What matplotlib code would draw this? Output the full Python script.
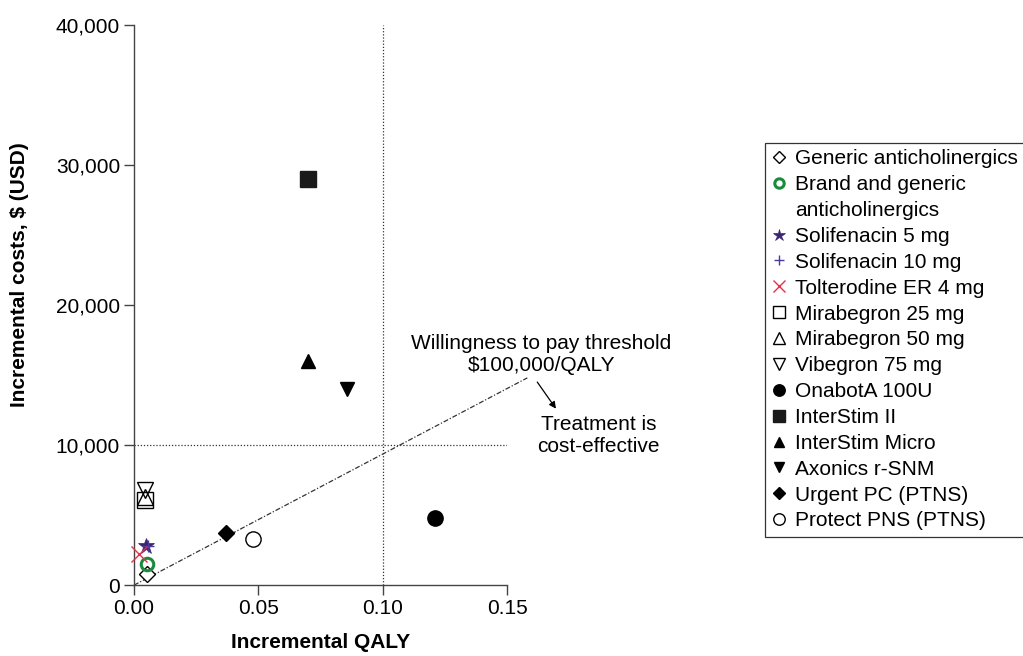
import matplotlib
matplotlib.use("Agg")
import matplotlib.pyplot as plt
from matplotlib.lines import Line2D

plt.rcParams["font.family"] = ["Liberation Sans", "DejaVu Sans"]

# ── 数据 ─────────────────────────────────────────────
labels = [
    "Generic anticholinergics",
    "Brand and generic\nanticholinergics",
    "Solifenacin 5 mg",
    "Solifenacin 10 mg",
    "Tolterodine ER 4 mg",
    "Mirabegron 25 mg",
    "Mirabegron 50 mg",
    "Vibegron 75 mg",
    "OnabotA 100U",
    "InterStim II",
    "InterStim Micro",
    "Axonics r-SNM",
    "Urgent PC (PTNS)",
    "Protect PNS (PTNS)",
]
qaly = [0.0051, 0.0054, 0.0047, 0.0055, 0.0020, 0.0045, 0.0045, 0.0045,
        0.121, 0.070, 0.070, 0.0855, 0.037, 0.048]
costs = [800, 1500, 2800, 2800, 2200, 6100, 6300, 6800,
         4800, 29000, 16000, 14000, 3700, 3300]

wtp_line_x = [0.0, 0.158]
wtp_line_y = [0, 14800]
threshold_qaly = 0.10
threshold_cost = 10000

# ── 样式 ─────────────────────────────────────────────
styles = [
    dict(marker="D", ms=8, mfc="white", mec="black", mew=1.0),
    dict(marker="o", ms=9, mfc="none", mec="#1a8a3c", mew=2.2),
    dict(marker="*", ms=12, mfc="#3b2470", mec="#3b2470", mew=0.5),
    dict(marker="+", ms=9, mfc="none", mec="#4b3c9c", mew=1.0),
    dict(marker="x", ms=11, mfc="none", mec="#e8304a", mew=1.0),
    dict(marker="s", ms=11, mfc="none", mec="black", mew=1.0),
    dict(marker="^", ms=12, mfc="none", mec="black", mew=1.0),
    dict(marker="v", ms=12, mfc="none", mec="black", mew=1.0),
    dict(marker="o", ms=11, mfc="black", mec="black", mew=1.0),
    dict(marker="s", ms=11, mfc="#1a1a1a", mec="#1a1a1a", mew=1.0),
    dict(marker="^", ms=10, mfc="black", mec="black", mew=1.0),
    dict(marker="v", ms=10, mfc="black", mec="black", mew=1.0),
    dict(marker="D", ms=8, mfc="black", mec="black", mew=1.0),
    dict(marker="o", ms=11, mfc="white", mec="black", mew=1.0),
]

fig = plt.figure(figsize=(10.23, 6.56), dpi=100)
ax = fig.add_axes([0.131, 0.108, 0.365, 0.854])

ax.plot([threshold_qaly, threshold_qaly], [0, 40000], color="#333333",
        lw=0.9, ls=(0, (1, 1.5)), zorder=1)
ax.plot([0, 0.15], [threshold_cost, threshold_cost], color="#333333",
        lw=0.9, ls=(0, (1, 1.5)), zorder=1)
ax.plot(wtp_line_x, wtp_line_y, color="#333333", lw=0.9,
        ls=(0, (4, 1.5, 1, 1.5)), zorder=1, clip_on=False)

handles, leg_labels = [], []
for lab, x, y, st in zip(labels, qaly, costs, styles):
    h, = ax.plot([x], [y], ls="none", zorder=3, clip_on=False, **st)
    # 多行标签：标记对齐首行，后续行用空白句柄
    parts = lab.split("\n")
    handles.append(h)
    leg_labels.append(parts[0])
    for extra in parts[1:]:
        handles.append(Line2D([], [], ls="none", marker=None))
        leg_labels.append(extra)

ax.set_xlim(0, 0.15)
ax.set_ylim(0, 40000)
ax.set_xticks([0, 0.05, 0.10, 0.15])
ax.set_xticklabels(["0.00", "0.05", "0.10", "0.15"])
ax.set_yticks([0, 10000, 20000, 30000, 40000])
ax.set_yticklabels(["0", "10,000", "20,000", "30,000", "40,000"])
ax.tick_params(labelsize=15, length=7, width=1.0, color="#444444",
               direction="out", pad=3)
for side in ["top", "right"]:
    ax.spines[side].set_visible(False)
for side in ["left", "bottom"]:
    ax.spines[side].set_color("#444444")
    ax.spines[side].set_linewidth(1.0)

ax.set_xlabel("Incremental QALY", fontsize=15, fontweight="bold")
ax.set_ylabel("Incremental costs, $ (USD)", fontsize=15, fontweight="bold")
ax.xaxis.set_label_coords(0.5, -0.085)
ax.yaxis.set_label_coords(-0.28, 0.554)

ax.text(0.1637, 16450, "Willingness to pay threshold\n$100,000/QALY",
        ha="center", va="center", fontsize=15, linespacing=1.2)
ax.annotate("", xy=(0.1695, 12600), xytext=(0.162, 14500),
            arrowprops=dict(arrowstyle="-|>", color="black", lw=0.9,
                            mutation_scale=10, shrinkA=0, shrinkB=0),
            annotation_clip=False)
ax.text(0.1866, 10650, "Treatment is\ncost-effective",
        ha="center", va="center", fontsize=15, linespacing=1.2)

leg = fig.legend(handles=handles, labels=leg_labels, loc="upper left",
                 bbox_to_anchor=(765 / 1023, 1 - 143 / 656),
                 frameon=True, fancybox=False, fontsize=15,
                 handlelength=0.7, handletextpad=0.45, labelspacing=0.33,
                 borderpad=0.3, markerscale=0.75, borderaxespad=0)
leg.get_frame().set_edgecolor("black")
leg.get_frame().set_linewidth(0.9)

fig.savefig("out.png", dpi=100)
